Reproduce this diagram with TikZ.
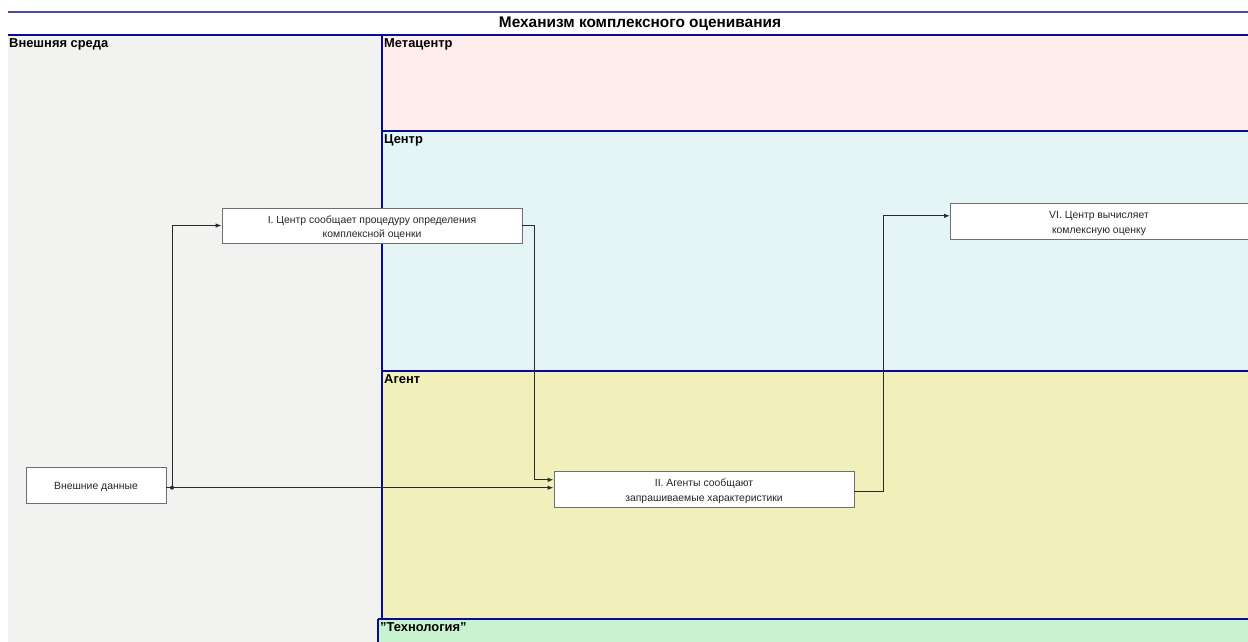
\documentclass[tikz,border=0pt]{standalone}
\usepackage{fontspec}
\setmainfont{Liberation Sans}
\usetikzlibrary{arrows.meta}
\definecolor{lanebd}{HTML}{0A0A9A}
\definecolor{titlebd}{HTML}{4C4CA6}
\definecolor{envfill}{HTML}{F2F2F1}
\definecolor{metafill}{HTML}{FCEDEB}
\definecolor{centfill}{HTML}{E5F4F4}
\definecolor{agentfill}{HTML}{F1F0BA}
\definecolor{techfill}{HTML}{C9F2CF}
\definecolor{boxbd}{HTML}{6E6E6E}
\definecolor{wire}{HTML}{2A2A2A}
\begin{document}
\begin{tikzpicture}[x=1pt,y=-1pt,
  lane/.style={draw=lanebd,line width=1.4pt},
  lanelabel/.style={anchor=north west,inner sep=1pt,font=\fontsize{12.9}{15}\selectfont\bfseries},
  boxtext/.style={align=center,font=\fontsize{10.4}{14.5}\selectfont,text=black!85,
    inner xsep=0pt,inner ysep=0pt,text depth=1pt,yshift=-1.5pt},
  procbox/.style={draw=boxbd,line width=0.9pt,fill=white},
  wireline/.style={draw=wire,line width=1pt},
  arr/.style={wireline,-{Latex[length=6pt,width=4.5pt]}}]
\useasboundingbox (0,0) rectangle (1248,642);
\fill[white] (0,0) rectangle (1248,642);
% swim lanes
\fill[envfill] (8,35) rectangle (382,642);
\fill[metafill] (382,35) rectangle (1260,131);
\fill[centfill] (382,131) rectangle (1260,371);
\fill[agentfill] (382,371) rectangle (1260,619);
\fill[techfill] (378,619) rectangle (1260,650);
\draw[lane] (382,35) -- (382,619);
\draw[lane] (382,131) -- (1260,131);
\draw[lane] (382,371) -- (1260,371);
\draw[lane] (378,619) -- (1260,619);
\draw[lane] (378,619) -- (378,650);
% title band
\draw[titlebd,line width=1.6pt] (8,12) -- (1260,12);
\draw[lane] (8,35) -- (1260,35);
\node[font=\fontsize{15.4}{17}\selectfont\bfseries] (title) at (640,24) {Механизм комплексного оценивания};
\node[lanelabel] (lenv) at (8,37) {Внешняя среда};
\node[lanelabel] (lmeta) at (383,37) {Метацентр};
\node[lanelabel] (lcent) at (383,133) {Центр};
\node[lanelabel] (lagent) at (383,373) {Агент};
\node[lanelabel] (ltech) at (379,621) {\char34 Технология\char34};
% process boxes
\node[procbox,minimum width=300pt,minimum height=35pt] (I) at (372,225.5) {};
\node[boxtext] (It) at (I.center) {I. Центр сообщает процедуру определения\\комплексной оценки};
\node[procbox,minimum width=300pt,minimum height=36pt] (II) at (704,489.3) {};
\node[boxtext] (IIt) at (II.center) {II. Агенты сообщают\\запрашиваемые характеристики};
\node[procbox,minimum width=320pt,minimum height=36pt,anchor=west] (VI) at (950,221.3) {};
\node[boxtext] (VIt) at (1099,221.3) {VI. Центр вычисляет\\комлексную оценку};
\node[procbox,minimum width=140pt,minimum height=36pt] (ext) at (96,485.3) {};
\node[boxtext] (extt) at (ext.center) {Внешние данные};
% connectors
\coordinate (j) at (172,487.7);
\draw[wireline] (ext.east |- j) -- (j);
\draw[arr] (j) |- (I.west);
\draw[arr] (j) -- (j -| II.west);
\fill[wire] (j) circle (2pt);
\draw[arr] (I.east) -- ++(12,0) |- ([yshift=9.5pt]II.west);
\draw[arr] ([yshift=-2pt]II.east) -- ++(29,0) |- ([yshift=5.5pt]VI.west);
\end{tikzpicture}
\end{document}
